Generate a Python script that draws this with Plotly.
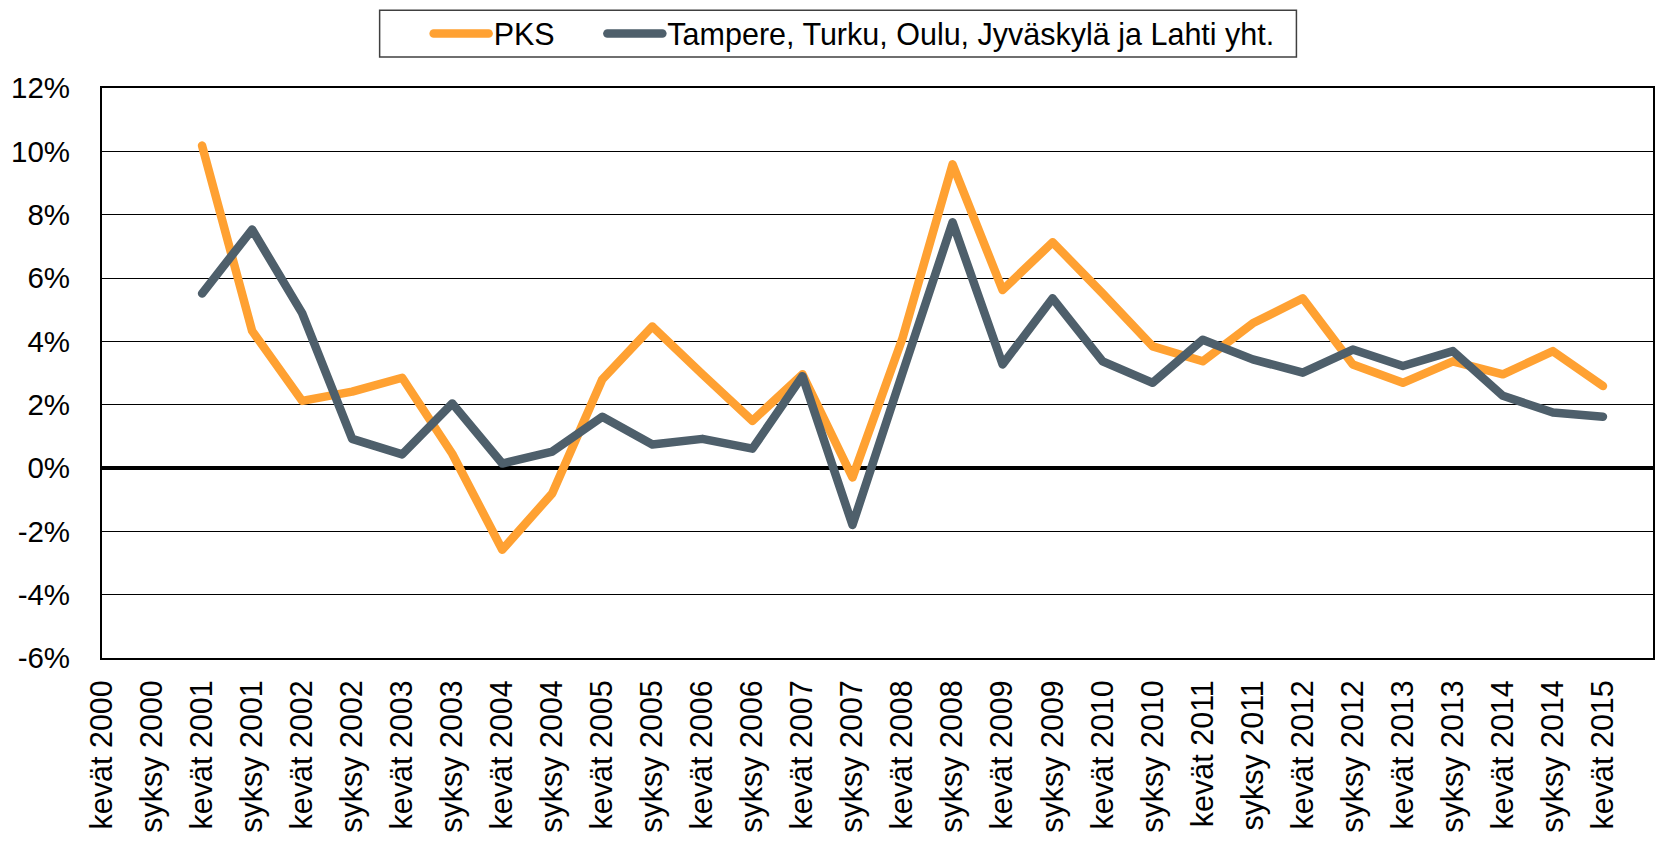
import plotly.graph_objects as go

categories = [
    "kevät 2000", "syksy 2000", "kevät 2001", "syksy 2001", "kevät 2002", "syksy 2002",
    "kevät 2003", "syksy 2003", "kevät 2004", "syksy 2004", "kevät 2005", "syksy 2005",
    "kevät 2006", "syksy 2006", "kevät 2007", "syksy 2007", "kevät 2008", "syksy 2008",
    "kevät 2009", "syksy 2009", "kevät 2010", "syksy 2010", "kevät 2011", "syksy 2011",
    "kevät 2012", "syksy 2012", "kevät 2013", "syksy 2013", "kevät 2014", "syksy 2014",
    "kevät 2015",
]

pks = [None, None, 10.18, 4.33, 2.12, 2.41, 2.85, 0.45, -2.58, -0.80, 2.80, 4.47,
       2.96, 1.49, 2.96, -0.30, 4.1, 9.59, 5.62, 7.13, 5.51, 3.84, 3.37, 4.57,
       5.36, 3.27, 2.69, 3.37, 2.96, 3.69, 2.59]

muut = [None, None, 5.51, 7.53, 4.89, 0.92, 0.43, 2.04, 0.14, 0.52, 1.62, 0.74,
        0.92, 0.61, 2.90, -1.80, 3.0, 7.76, 3.27, 5.36, 3.37, 2.69, 4.05, 3.43,
        3.01, 3.74, 3.22, 3.69, 2.28, 1.75, 1.62]

y_ticks = [-6, -4, -2, 0, 2, 4, 6, 8, 10, 12]
y_ticktext = [f"{v}%" for v in y_ticks]

FONT = "Liberation Sans, Arial, sans-serif"
x_idx = list(range(len(categories)))

fig = go.Figure()
fig.add_trace(go.Scatter(
    x=x_idx, y=pks, mode="lines", name="PKS",
    line=dict(color="#FFA132", width=8.5), legend="legend",
))
fig.add_trace(go.Scatter(
    x=x_idx, y=muut, mode="lines", name="Tampere, Turku, Oulu, Jyväskylä ja Lahti yht.",
    line=dict(color="#4E5F6B", width=8.5), legend="legend2",
))

legend_common = dict(
    y=1.0953, yanchor="middle", xanchor="left",
    orientation="h", bgcolor="rgba(0,0,0,0)", borderwidth=0,
    itemwidth=55,
    font=dict(family=FONT, size=30.5, color="black"),
)

fig.update_layout(
    width=1662, height=845,
    margin=dict(l=102, r=7, t=84, b=187),
    plot_bgcolor="white", paper_bgcolor="white",
    font=dict(family=FONT, size=29.5, color="black"),
    showlegend=True,
    legend=dict(x=0.2106, **legend_common),
    legend2=dict(x=0.3226, **legend_common),
    shapes=[dict(
        type="rect", xref="paper", yref="paper",
        x0=0.1790, x1=0.7701, y0=1.0545, y1=1.1364,
        line=dict(color="#404040", width=1.5), fillcolor="rgba(0,0,0,0)",
        layer="below",
    )],
)

fig.update_xaxes(
    range=[0, 31], tickmode="array", tickvals=x_idx, ticktext=categories,
    tickangle=-90, showgrid=False, zeroline=False,
    showline=True, mirror=True, linecolor="black", linewidth=2,
    ticks="", ticklabelstandoff=8,
    tickfont=dict(family=FONT, size=30.5, color="black"),
)
fig.update_yaxes(
    range=[-6, 12], tickmode="array", tickvals=y_ticks, ticktext=y_ticktext,
    showgrid=True, gridcolor="black", gridwidth=1,
    zeroline=True, zerolinecolor="black", zerolinewidth=4,
    showline=True, mirror=True, linecolor="black", linewidth=2,
    ticks="", ticklabelstandoff=24,
    tickfont=dict(family=FONT, size=29.5, color="black"),
)

post_js = (
    "document.body.style.margin='0';"
    "document.body.style.overflow='hidden';"
    "document.querySelectorAll('.scatterlayer path.js-line, .legendlines path')"
    ".forEach(function(p){p.style.strokeLinecap='round';p.style.strokeLinejoin='round';});"
)

fig.write_html(
    "out.html",
    config={"displayModeBar": False},
    post_script=post_js,
)
